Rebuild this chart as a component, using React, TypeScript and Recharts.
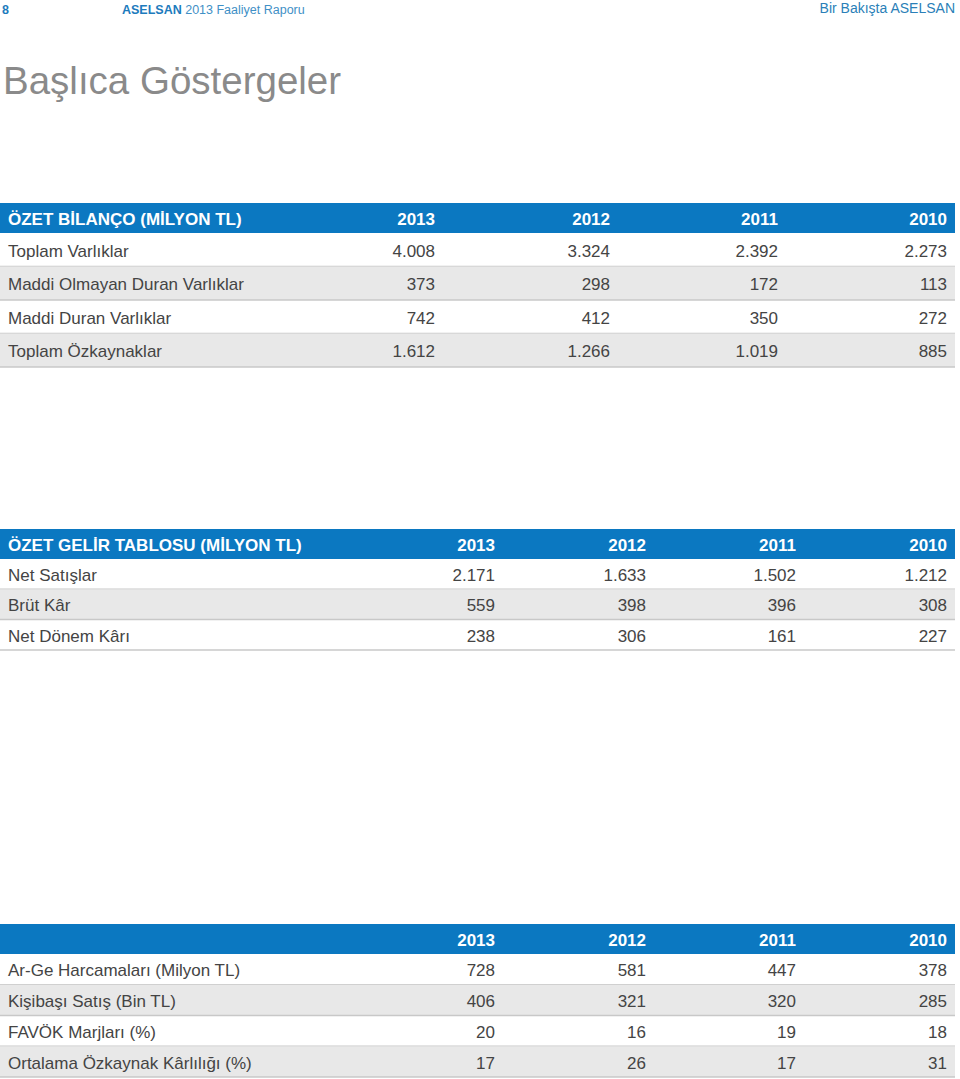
import React from 'react';
import { Surface, Layer, Rectangle, Text } from 'recharts';

const years = ['2013', '2012', '2011', '2010'];

const bilancoTitle = 'ÖZET BİLANÇO (MİLYON TL)';
const bilancoRows = ['Toplam Varlıklar', 'Maddi Olmayan Duran Varlıklar', 'Maddi Duran Varlıklar', 'Toplam Özkaynaklar'];
const bilanco2013 = [4008, 373, 742, 1612];
const bilanco2012 = [3324, 298, 412, 1266];
const bilanco2011 = [2392, 172, 350, 1019];
const bilanco2010 = [2273, 113, 272, 885];

const gelirTitle = 'ÖZET GELİR TABLOSU (MİLYON TL)';
const gelirRows = ['Net Satışlar', 'Brüt Kâr', 'Net Dönem Kârı'];
const gelir2013 = [2171, 559, 238];
const gelir2012 = [1633, 398, 306];
const gelir2011 = [1502, 396, 161];
const gelir2010 = [1212, 308, 227];

const digerTitle = '';
const digerRows = ['Ar-Ge Harcamaları (Milyon TL)', 'Kişibaşı Satış (Bin TL)', 'FAVÖK Marjları (%)', 'Ortalama Özkaynak Kârlılığı (%)'];
const diger2013 = [728, 406, 20, 17];
const diger2012 = [581, 321, 16, 26];
const diger2011 = [447, 320, 19, 17];
const diger2010 = [378, 285, 18, 31];

const FONT = '"Liberation Sans", Arial, Helvetica, sans-serif';
const BLUE = '#0b78c1';
const GRAY_ROW = '#e8e8e8';
const LINE = '#c8c8c8';
const TEXT = '#444444';
const TABLE_W = 955;

const fmt = (v: number) => {
  const s = String(v);
  return s.replace(/\B(?=(\d{3})+(?!\d))/g, '.');
};

type TableProps = {
  title: string;
  rows: string[];
  cols: number[][];
  top: number;
  headerH: number;
  rowH: number;
  colRight: number[];
};

function Table({ title, rows, cols, top, headerH, rowH, colRight }: TableProps) {
  const hy = top + headerH / 2 + 6.5;
  return (
    <Layer>
      <Rectangle x={0} y={top} width={TABLE_W} height={headerH} fill={BLUE} />
      {title ? (
        <Text x={8} y={hy} fill="#ffffff" fontSize={17} fontWeight="bold" fontFamily={FONT}>
          {title}
        </Text>
      ) : null}
      {years.map((yr, j) => (
        <Text key={yr} x={colRight[j]} y={hy} textAnchor="end" fill="#ffffff" fontSize={17} fontWeight="bold" fontFamily={FONT}>
          {yr}
        </Text>
      ))}
      {rows.map((label, i) => {
        const y0 = top + headerH + i * rowH;
        const cy = y0 + rowH / 2 + 7;
        return (
          <Layer key={label}>
            {i % 2 === 1 ? <Rectangle x={0} y={y0} width={TABLE_W} height={rowH} fill={GRAY_ROW} /> : null}
            <line x1={0} x2={TABLE_W} y1={y0 + rowH} y2={y0 + rowH} stroke={LINE} strokeWidth={1.5} />
            <Text x={8} y={cy} fill={TEXT} fontSize={17} fontFamily={FONT}>
              {label}
            </Text>
            {cols.map((col, j) => (
              <Text key={j} x={colRight[j]} y={cy} textAnchor="end" fill={TEXT} fontSize={17} fontFamily={FONT}>
                {fmt(col[i])}
              </Text>
            ))}
          </Layer>
        );
      })}
    </Layer>
  );
}

export default function App() {
  return (
    <div style={{ position: 'absolute', left: 0, top: 0, width: 960, height: 1079, background: '#fff' }}>
      <Surface width={960} height={1079}>
        <text x={2} y={14} fontFamily={FONT} fontSize={12.5} fontWeight="bold" fill="#1d7bbd">8</text>
        <text x={122} y={14} fontFamily={FONT} fontSize={12.5}>
          <tspan fontWeight="bold" fill="#1d7bbd">ASELSAN</tspan>
          <tspan fill="#3f90c6"> 2013 Faaliyet Raporu</tspan>
        </text>
        <text x={955} y={12.5} textAnchor="end" fontFamily={FONT} fontSize={14} fill="#2a7fb8">Bir Bakışta ASELSAN</text>
        <text x={3} y={94} fontFamily={FONT} fontSize={38.5} fill="#8a8a8a">Başlıca Göstergeler</text>

        <Table
          title={bilancoTitle}
          rows={bilancoRows}
          cols={[bilanco2013, bilanco2012, bilanco2011, bilanco2010]}
          top={203}
          headerH={30}
          rowH={33.5}
          colRight={[435, 610, 778, 947]}
        />
        <Table
          title={gelirTitle}
          rows={gelirRows}
          cols={[gelir2013, gelir2012, gelir2011, gelir2010]}
          top={529}
          headerH={30}
          rowH={30.3}
          colRight={[495, 646, 796, 947]}
        />
        <Table
          title={digerTitle}
          rows={digerRows}
          cols={[diger2013, diger2012, diger2011, diger2010]}
          top={924}
          headerH={30}
          rowH={30.75}
          colRight={[495, 646, 796, 947]}
        />
      </Surface>
    </div>
  );
}
